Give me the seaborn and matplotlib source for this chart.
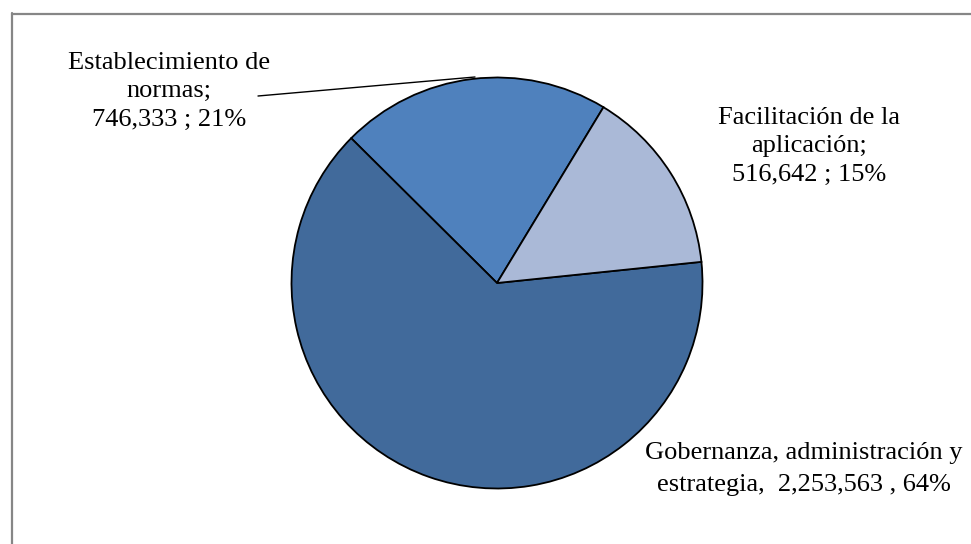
import matplotlib
matplotlib.use("Agg")
import matplotlib.pyplot as plt
from matplotlib.lines import Line2D
import seaborn as sns

# ---- data ----
categories = ["Establecimiento de normas", "Gobernanza, administración y estrategia", "Facilitación de la aplicación"]
values = [746333, 2253563, 516642]
percents = [21, 64, 15]
label_texts = [
    "Establecimiento de\nnormas;\n746,333 ; 21%",
    "Gobernanza, administración y\nestrategia,  2,253,563 , 64%",
    "Facilitación de la\naplicación;\n516,642 ; 15%",
]
colors = ["#4F81BD", "#416A9B", "#AAB9D7"]

sns.set_theme(style="white")
plt.rcParams['font.family'] = ['Liberation Serif', 'DejaVu Serif']

W, H = 971, 544
fig = plt.figure(figsize=(W / 100, H / 100), dpi=100)
fig.patch.set_facecolor("white")

cx, cy, r = 497, 283, 205.5
ax = fig.add_axes([(cx - r) / W, (H - cy - r) / H, 2 * r / W, 2 * r / H])

ax.pie(values, colors=colors, startangle=58.8, counterclock=True,
       wedgeprops=dict(edgecolor="black", linewidth=1.3), radius=1.0)
ax.set_xlim(-1, 1)
ax.set_ylim(-1, 1)
ax.set_aspect("equal")
ax.axis("off")


def px2d(px, py):
    return (px - cx) / r, (cy - py) / r


label_pos = [(169, 91), (804, 469), (809, 146)]
spacing = [1.38, 1.54, 1.38]
for txt, (px, py), ls in zip(label_texts, label_pos, spacing):
    x, y = px2d(px, py)
    ax.text(x, y, txt, ha="center", va="center", fontsize=19, color="black",
            linespacing=ls, clip_on=False)

# leader line for Establecimiento label
x0, y0 = px2d(258, 96)
x1, y1 = px2d(475, 77)
ax.add_line(Line2D([x0, x1], [y0, y1], color="black", linewidth=1.0, clip_on=False))

# chart border (top and left visible)
bc = "#868686"
fig.add_artist(Line2D([11.5 / W, 11.5 / W], [0, 1 - 13 / H], color=bc, linewidth=1.6,
                      transform=fig.transFigure))
fig.add_artist(Line2D([11.5 / W, 1], [1 - 13.5 / H, 1 - 13.5 / H], color=bc, linewidth=1.6,
                      transform=fig.transFigure))

fig.savefig("out.png", dpi=100, facecolor="white")
